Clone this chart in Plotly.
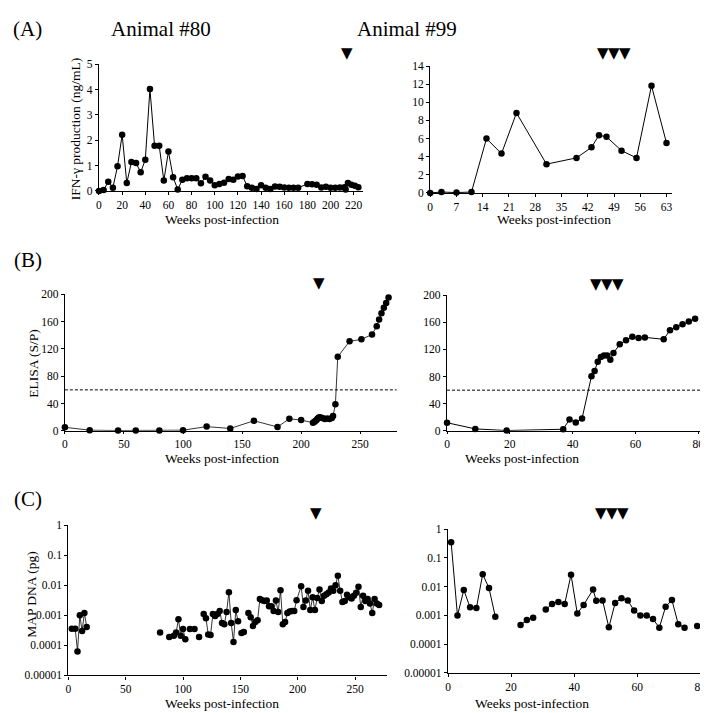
import plotly.graph_objects as go

W, H = 708, 713

# ---------------- DATA ----------------
# (A) IFN-gamma production (ng/mL)
ifn80_weeks = [0, 4, 8, 12, 16, 20, 24, 28, 32, 36, 40, 44, 48, 52, 56, 60, 64, 68, 72, 76, 80, 84, 88, 92,
               96, 100, 104, 108, 112, 116, 120, 124, 128, 132, 136, 140, 144, 148, 152, 156, 160, 164,
               168, 172, 180, 184, 188, 192, 196, 200, 204, 208, 212, 213, 215, 218, 221, 224]
ifn80_vals = [0, 0.04, 0.36, 0.13, 0.97, 2.22, 0.31, 1.14, 1.10, 0.74, 1.23, 4.02, 1.78, 1.78, 0.41, 1.56,
              0.54, 0.06, 0.44, 0.50, 0.50, 0.50, 0.30, 0.56, 0.41, 0.23, 0.27, 0.32, 0.47, 0.44, 0.57, 0.59,
              0.19, 0.13, 0.08, 0.23, 0.13, 0.08, 0.18, 0.17, 0.14, 0.13, 0.13, 0.13, 0.27, 0.26, 0.25, 0.14,
              0.17, 0.13, 0.13, 0.14, 0.15, 0.06, 0.31, 0.25, 0.21, 0.15]
ifn99_weeks = [0, 3, 7, 11, 15, 19, 23, 31, 39, 43, 45, 47, 51, 55, 59, 63]
ifn99_vals = [0, 0.1, 0.04, 0.1, 6.0, 4.34, 8.83, 3.18, 3.87, 5.03, 6.37, 6.19, 4.67, 3.87, 11.83, 5.5]

# (B) ELISA (S/P)
elisa80_weeks = [0, 21, 45, 60, 80, 100, 120, 140, 160, 180, 190, 200, 210, 211, 212, 213, 214, 215, 216,
                 218, 220, 222, 224, 226, 227, 229, 231, 241, 251, 260, 264, 266, 268, 270, 272, 274]
elisa80_vals = [5.2, 1.0, 0.5, 0.5, 0.5, 1.0, 6.2, 3.5, 14.8, 5.7, 17.7, 15.8, 12, 13, 14.5, 16, 18, 19.6,
                20, 19, 17.3, 18, 17.5, 18.7, 21.6, 38.8, 108.4, 131, 134, 141, 153, 163, 172, 180, 187, 195]
elisa99_weeks = [0, 9, 19, 37, 39, 41, 43, 46, 47, 48, 49, 50, 51, 52, 53, 55, 57, 59, 61, 63, 69, 71, 73,
                 75, 77, 79]
elisa99_vals = [12.0, 2.9, 0.5, 2.4, 16.9, 12.5, 18.3, 80.5, 88.2, 102, 109, 111, 111, 105, 114.7, 127.7,
                133.5, 138.8, 136.9, 137.8, 135, 148.4, 152.8, 157, 161.4, 165.3]
elisa_cutoff = 60

# (C) MAP DNA (pg); None = no sample (line break)
map80_weeks = [3, 6, 8, 10, 12, 14, 16, 50, 80, 84, 88, 92, 94, 96, 98, 100, 102, 104, 106, 110, 112, 114,
               116, 118, 120, 122, 124, 126, 128, 130, 132, 134, 136, 138, 140, 142, 144, 146, 148, 150,
               151, 153, 155, 157, 159, 161, 163, 165, 167, 169, 171, 173, 175, 177, 179, 181, 183, 185,
               187, 189, 191, 193, 195, 197, 199, 203, 205, 207, 209, 211, 213, 215, 217, 219, 221, 223,
               225, 227, 229, 231, 233, 235, 237, 239, 241, 243, 245, 247, 249, 251, 253, 255, 257, 259,
               261, 263, 265, 267, 269, 271]
map80_vals = [0.00036, 0.00036, 0.000063, 0.001, 0.0003, 0.0012, 0.00041, None, 0.00027, None,
              0.00019, 0.00021, 0.00027, 0.00074, 0.00021, 0.00035, 0.00016, None, 0.00035, 0.00035,
              None, 0.00019, None,
              0.0011, 0.0008, 0.00023, 0.00022, 0.0011, 0.00095, 0.0011, 0.0014, 0.00056, 0.0005,
              0.0013, 0.0059, 0.00056, 0.00013, 0.0015, 0.00063, None,
              0.00026, 0.00028, None,
              0.0012, 0.00087, 0.00044, 0.0006, 0.00068, 0.0035, 0.0032, 0.003, 0.0031, 0.002, 0.002,
              0.0014, 0.0031, 0.0013, 0.0069, 0.0005, 0.0006, 0.0012, 0.00135, 0.0014, 0.0014, 0.0032,
              0.0093, 0.0019, 0.0031, 0.0066, 0.0015, 0.004, 0.0015, 0.0038, 0.0072, 0.003, 0.0045,
              0.005, 0.0058, 0.0079, 0.0066, 0.01, 0.021, 0.0066, 0.0028, 0.003, 0.0048, 0.004, 0.0036,
              0.0045, 0.0056, 0.0089, 0.0019, 0.0045, 0.003, 0.0035, 0.0025, 0.0012, 0.0035, 0.0025,
              0.0022]
map99_weeks = [1, 3, 5, 7, 9, 11, 13, 15, 19, 23, 25, 27, 29, 31, 33, 35, 37, 39, 41, 43, 46, 47, 49, 51,
               53, 55, 57, 59, 61, 63, 65, 67, 69, 71, 73, 75, 77, 79]
map99_vals = [0.35, 0.00098, 0.0076, 0.0019, 0.0018, 0.027, 0.0089, 0.00089, None, 0.00046, 0.00068,
              0.00083, None, 0.00158, 0.0025, 0.0029, 0.0025, 0.026, 0.00115, 0.0023, 0.0079, 0.0032,
              0.0033, 0.00038, 0.0027, 0.0039, 0.0033, 0.00146, 0.00098, 0.00098, 0.00074, 0.00037,
              0.002, 0.0034, 0.00049, 0.00037, None, 0.00042]

# treatment markers (weeks)
treat80_A, treat80_B, treat80_C = [214], [215], [216]
treat99_A, treat99_B, treat99_C = [46, 49, 52], [47.5, 51, 54.5], [48.5, 52, 55.5]

# tick labels
ifn80_ticks = list(range(0, 221, 20))
ifn99_ticks = list(range(0, 64, 7))
map_tickvals = [1e-5, 1e-4, 1e-3, 1e-2, 1e-1, 1]
map_ticktext = ["0.00001", "0.0001", "0.001", "0.01", "0.1", "1"]

# ---------------- FIGURE ----------------
SERIF = "Times New Roman, Liberation Serif, DejaVu Serif, serif"
fig = go.Figure()


def px_x(p):
    return p / W


def px_y(p):
    return (H - p) / H


def add_series(x, y, xa, ya, lw=1.0):
    fig.add_trace(go.Scatter(x=x, y=y, xaxis=xa, yaxis=ya, mode="lines+markers",
                             line=dict(color="black", width=lw),
                             marker=dict(color="black", size=6.5),
                             connectgaps=False, showlegend=False, cliponaxis=False))


add_series(ifn80_weeks, ifn80_vals, "x", "y")
add_series(ifn99_weeks, ifn99_vals, "x2", "y2")
add_series(elisa80_weeks, elisa80_vals, "x3", "y3", 0.8)
add_series(elisa99_weeks, elisa99_vals, "x4", "y4")
add_series(map80_weeks, map80_vals, "x5", "y5", 0.8)
add_series(map99_weeks, map99_vals, "x6", "y6")

axis_common = dict(showgrid=False, zeroline=False, showline=True, linecolor="black", linewidth=1.3,
                   ticks="outside", ticklen=3, tickcolor="black", tickwidth=1,
                   tickfont=dict(family=SERIF, size=11.5, color="black"))

# pixel geometry
geo = {
    "1": dict(x=(89, 356), y=(180, 51)),
    "2": dict(x=(424, 668.7), y=(182, 53)),
    "3": dict(x=(54.5, 390), y=(424, 285)),
    "4": dict(x=(441, 697), y=(424, 286)),
    "5": dict(x=(58, 380), y=(672.7, 520)),
    "6": dict(x=(442, 698), y=(670, 524)),
}


def dom(k):
    g = geo[k]
    return [px_x(g["x"][0]), px_x(g["x"][1])], [px_y(g["y"][0]), px_y(g["y"][1])]


lay = {}
xr = {"1": [0, 228], "2": [0, 64.5], "3": [0, 280.8], "4": [0, 80.6], "5": [0, 277.6], "6": [0, 80.25]}
for k in ["1", "2", "3", "4", "5", "6"]:
    xd, yd = dom(k)
    xn = "xaxis" if k == "1" else "xaxis" + k
    yn = "yaxis" if k == "1" else "yaxis" + k
    lay[xn] = dict(axis_common, domain=xd, range=xr[k], anchor="y" if k == "1" else "y" + k)
    lay[yn] = dict(axis_common, domain=yd, anchor="x" if k == "1" else "x" + k)

lay["xaxis"].update(tickvals=ifn80_ticks)
lay["yaxis"].update(range=[0, 5], dtick=1)
lay["xaxis2"].update(tickvals=ifn99_ticks)
lay["yaxis2"].update(range=[0, 14], dtick=2)
lay["xaxis3"].update(dtick=50, ticklen=2)
lay["yaxis3"].update(range=[0, 200], dtick=40)
lay["xaxis4"].update(dtick=20, ticklen=2)
lay["yaxis4"].update(range=[0, 200], dtick=40)
lay["xaxis5"].update(dtick=50)
lay["yaxis5"].update(type="log", range=[-5, 0], tickvals=map_tickvals, ticktext=map_ticktext)
lay["xaxis6"].update(dtick=20)
lay["yaxis6"].update(type="log", range=[-5, 0], tickvals=map_tickvals, ticktext=map_ticktext)

fig.update_layout(width=W, height=H, margin=dict(l=0, r=0, t=0, b=0),
                  plot_bgcolor="white", paper_bgcolor="white",
                  font=dict(family=SERIF, color="black"), **lay)

# cutoff lines
for xa, ya in [("x3", "y3"), ("x4", "y4")]:
    fig.add_shape(type="line", xref=xa + " domain", yref=ya, x0=0, x1=1, y0=elisa_cutoff, y1=elisa_cutoff,
                  line=dict(color="black", width=1, dash="3px,2px"))

ann = []


def text(x, y, s, size, angle=0, family=SERIF):
    ann.append(dict(x=px_x(x), y=px_y(y), xref="paper", yref="paper", text=s, showarrow=False,
                    font=dict(family=family, size=size, color="black"), textangle=angle,
                    xanchor="center", yanchor="middle"))


# panel letters and titles
text(17, 15, "(A)", 21)
text(17, 250, "(B)", 21)
text(17, 493, "(C)", 21)
text(152, 15, "Animal #80", 21)
text(401, 15, "Animal #99", 21)

# axis titles
for (cx, cy) in [(213, 209), (549, 209), (213, 452), (517, 452), (213, 701), (527, 701)]:
    text(cx, cy, "Weeks post-infection", 13.5)
text(65, 117, "IFN-γ production (ng/mL)", 13.5, -90)
text(22, 355, "ELISA (S/P)", 13.5, -90)
text(20, 590, "MAP DNA (pg)", 13.5, -90)

# treatment triangles
for weeks, xa, ypix in [(treat80_A, "x", 40), (treat99_A, "x2", 40), (treat80_B, "x3", 274),
                        (treat99_B, "x4", 275), (treat80_C, "x5", 508), (treat99_C, "x6", 508)]:
    for w in weeks:
        ann.append(dict(x=w, y=px_y(ypix), xref=xa, yref="paper", text="▼", showarrow=False,
                        font=dict(family="DejaVu Sans", size=15, color="black"),
                        xanchor="center", yanchor="middle"))

fig.update_layout(annotations=ann)
fig.write_html("out.html")
